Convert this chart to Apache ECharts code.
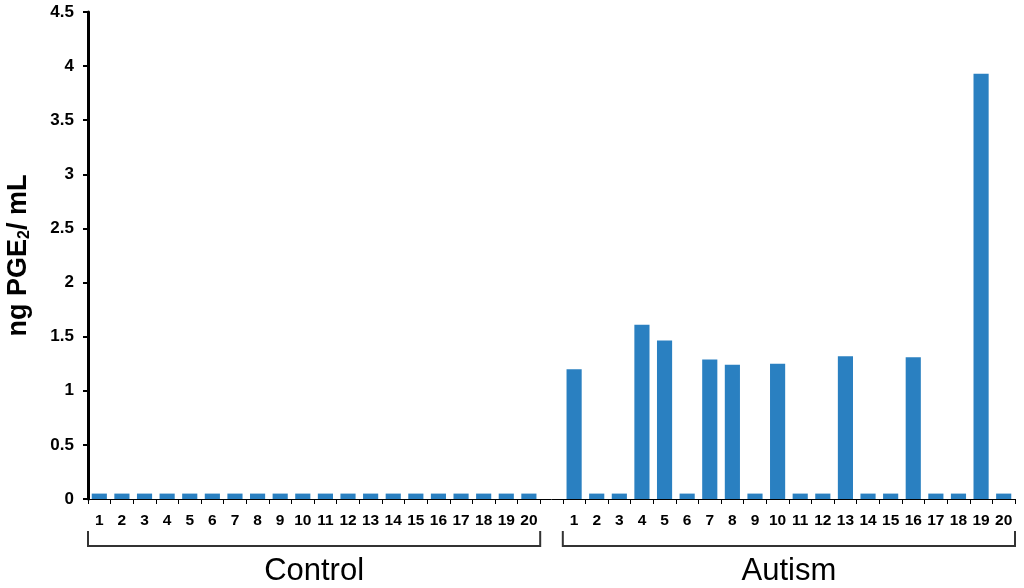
<!DOCTYPE html>
<html>
<head>
<meta charset="utf-8">
<script src="https://cdn.jsdelivr.net/npm/echarts@6/dist/echarts.min.js"></script>
<style>
html,body{margin:0;padding:0;background:#fff;}
#chart{width:1024px;height:588px;}
</style>
</head>
<body>
<div id="chart"></div>
<script>
// ---- data ----
var controlIds = ['C1','C2','C3','C4','C5','C6','C7','C8','C9','C10','C11','C12','C13','C14','C15','C16','C17','C18','C19','C20'];
var autismIds  = ['A1','A2','A3','A4','A5','A6','A7','A8','A9','A10','A11','A12','A13','A14','A15','A16','A17','A18','A19','A20'];
var tickLabels = ['1','2','3','4','5','6','7','8','9','10','11','12','13','14','15','16','17','18','19','20'];
var controlValues = [0.05,0.05,0.05,0.05,0.05,0.05,0.05,0.05,0.05,0.05,0.05,0.05,0.05,0.05,0.05,0.05,0.05,0.05,0.05,0.05];
var autismValues  = [1.20,0.05,0.05,1.61,1.465,0.05,1.29,1.24,0.05,1.25,0.05,0.05,1.32,0.05,0.05,1.31,0.05,0.05,3.93,0.05];
var groupNames = ['Control','Autism'];
var yTicks = { min: 0, max: 4.5, interval: 0.5 };

// ---- build ----
var categories = controlIds.concat(['gap']).concat(autismIds);
var values = controlValues.concat([null]).concat(autismValues);
var labelMap = {};
controlIds.forEach(function(id,i){ labelMap[id] = tickLabels[i]; });
autismIds.forEach(function(id,i){ labelMap[id] = tickLabels[i]; });

var FONT = '"Liberation Sans", Arial, sans-serif';
var chart = echarts.init(document.getElementById('chart'));
chart.setOption({
  animation: false,
  backgroundColor: '#fff',
  grid: { left: 88, right: 9, top: 12, bottom: 89, containLabel: false, outerBoundsMode: 'none' },
  xAxis: {
    type: 'category',
    data: categories,
    boundaryGap: true,
    axisLine: { lineStyle: { color: '#000', width: 1 } },
    axisTick: { show: true, alignWithLabel: false, length: 5, lineStyle: { color: '#000', width: 1 } },
    axisLabel: {
      interval: 0, margin: 14,
      fontFamily: FONT, fontWeight: 'bold', fontSize: 15.5, color: '#000',
      formatter: function(v){ return labelMap[v] || ''; }
    },
    splitLine: { show: false }
  },
  yAxis: {
    type: 'value',
    min: yTicks.min, max: yTicks.max, interval: yTicks.interval,
    name: 'ng PGE{sub|2}/ mL',
    nameLocation: 'middle',
    nameGap: 55,
    nameTextStyle: {
      fontFamily: FONT, fontWeight: 'bold', fontSize: 27, color: '#000',
      rich: { sub: { fontFamily: FONT, fontWeight: 'bold', fontSize: 16, color: '#000', verticalAlign: 'bottom', padding: [12,0,0,0] } }
    },
    axisLine: { show: true, lineStyle: { color: '#000', width: 3 } },
    axisTick: { show: true, length: 5, lineStyle: { color: '#000', width: 2 } },
    axisLabel: {
      margin: 14, fontFamily: FONT, fontWeight: 'bold', fontSize: 17, color: '#000',
      formatter: function(v){ return String(v); }
    },
    splitLine: { show: false }
  },
  series: [{
    type: 'bar',
    data: values,
    barCategoryGap: '33%',
    itemStyle: { color: '#2a80c1' }
  }]
});

// ---- group brackets, positioned from the axis scale ----
function bracketFor(ids, name){
  var first = chart.convertToPixel({xAxisIndex:0}, ids[0]);
  var second = chart.convertToPixel({xAxisIndex:0}, ids[1]);
  var last = chart.convertToPixel({xAxisIndex:0}, ids[ids.length-1]);
  var bw = second - first;
  var x0 = first - bw/2, x1 = last + bw/2;
  var y0 = chart.convertToPixel({yAxisIndex:0}, 0);
  var top = y0 + 32, bot = y0 + 47;
  return [
    { type: 'polyline', shape: { points: [[x0, top],[x0, bot],[x1, bot],[x1, top]] },
      style: { stroke: '#333', lineWidth: 2, fill: null } },
    { type: 'text', x: (x0+x1)/2, y: bot + 25,
      style: { text: name, fontFamily: FONT, fontSize: 31, fill: '#000', align: 'center', verticalAlign: 'middle' } }
  ];
}
chart.setOption({
  graphic: bracketFor(controlIds, groupNames[0]).concat(bracketFor(autismIds, groupNames[1]))
});
</script>
</body>
</html>
